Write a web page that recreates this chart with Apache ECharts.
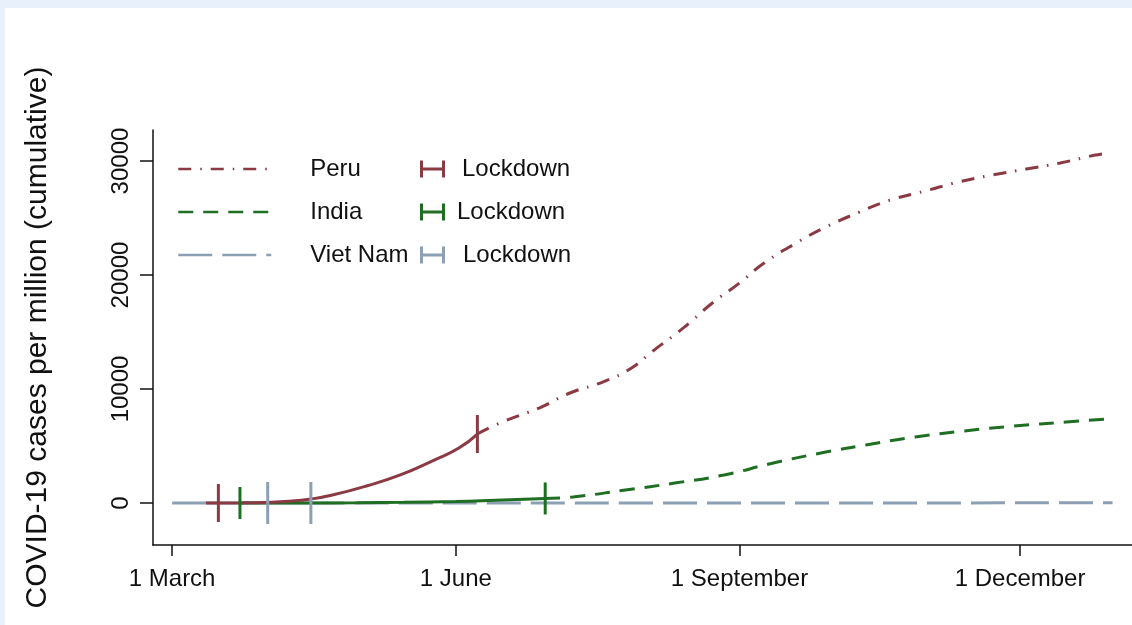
<!DOCTYPE html>
<html>
<head>
<meta charset="utf-8">
<script src="https://cdn.jsdelivr.net/npm/echarts@6/dist/echarts.min.js"></script>
<style>
    body { margin: 0; background: #e8f1fb; width: 1132px; height: 625px; overflow: hidden; }
    #chart { position: absolute; left: 5px; top: 8px; width: 1127px; height: 617px; background: #fff; }
</style>
</head>
<body>
<div id="chart"></div>
<script>
// days counted from 1 March 2020
const tickDays = [0, 92, 184, 275];
const tickLabels = ['1 March', '1 June', '1 September', '1 December'];
const yTicks = [0, 10000, 20000, 30000];

// Peru
const peruSolidDays = [11, 15, 22, 30, 38, 45, 52, 63, 74, 85, 93, 99];
const peruSolidCases = [0, 0, 10, 50, 150, 350, 700, 1490, 2460, 3770, 4820, 6050];
const peruDashDays = [99, 107, 119, 129, 140, 149, 156, 166, 175, 184, 192, 203, 212, 223, 233, 244, 255, 266, 277, 288, 299, 304];
const peruDashCases = [6050, 7100, 8330, 9650, 10650, 11850, 13350, 15400, 17500, 19300, 21050, 22900, 24210, 25530, 26580, 27350, 28160, 28770, 29300, 29820, 30500, 30700];
const peruLockDays = [15, 99];
const peruLockCases = [0, 6050];

// India
const indiaSolidDays = [22, 40, 60, 75, 92, 105, 121];
const indiaSolidCases = [0, 5, 25, 60, 140, 250, 400];
const indiaDashDays = [121, 130, 147, 163, 179, 195, 212, 225, 241, 257, 273, 290, 303];
const indiaDashCases = [400, 530, 1140, 1750, 2460, 3510, 4470, 5090, 5790, 6320, 6750, 7100, 7370];
const indiaLockDays = [22, 121];
const indiaLockCases = [0, 400];

// Viet Nam
const vietSolidDays = [0, 45];
const vietSolidCases = [0, 3];
const vietDashDays = [45, 150, 305];
const vietDashCases = [3, 4, 15];
const vietLockDays = [31, 45];
const vietLockCases = [0, 0];

const colors = {
    peru: '#8b3a44',
    india: '#1f6f23',
    viet: '#8c9fb3'
};
const font = 'Liberation Sans, Arial, sans-serif';

const zip = (xs, ys) => xs.map((x, i) => [x, ys[i]]);

const lineSeries = (name, days, cases, color, type, z) => ({
    name,
    type: 'line',
    data: zip(days, cases),
    symbol: 'none',
    smooth: 0.5,
    z,
    silent: true,
    lineStyle: { color, width: 3, type },
    itemStyle: { color }
});

const lockSeries = (name, days, cases, color, height) => ({
    name,
    type: 'scatter',
    data: zip(days, cases),
    symbol: 'rect',
    symbolSize: [3, height],
    z: 10,
    silent: true,
    itemStyle: { color, opacity: 1 }
});

const lockIcon = 'path://M0,0h3v17h-3zM0,7h25v3h-25zM22,0h3v17h-3z';

const chart = echarts.init(document.getElementById('chart'));
chart.setOption({
    animation: false,
    textStyle: { fontFamily: font },
    grid: { left: 148, right: 0, top: 122, bottom: 80 },
    legend: [{
        data: ['Peru', 'India', 'Viet Nam'],
        orient: 'vertical',
        left: 172,
        top: 149,
        padding: 0,
        itemGap: 19,
        itemWidth: 93,
        itemHeight: 14,
        selectedMode: false,
        itemStyle: { opacity: 0 },
        lineStyle: { width: 2.5 },
        textStyle: { fontSize: 24, color: '#111', lineHeight: 24, padding: [0, 0, 0, 34], fontFamily: font }
    }, {
        data: [
            { name: 'Peru lockdown', icon: lockIcon, textStyle: { padding: [0, 0, 0, 12] } },
            { name: 'India lockdown', icon: lockIcon, textStyle: { padding: [0, 0, 0, 7] } },
            { name: 'Viet Nam lockdown', icon: lockIcon, textStyle: { padding: [0, 0, 0, 13] } }
        ],
        orient: 'vertical',
        left: 415,
        top: 149,
        padding: 0,
        itemGap: 19,
        itemWidth: 25,
        itemHeight: 17,
        selectedMode: false,
        formatter: () => 'Lockdown',
        textStyle: { fontSize: 24, color: '#111', lineHeight: 24, fontFamily: font }
    }],
    xAxis: {
        type: 'value',
        min: -6.2,
        max: 311.3,
        axisLine: { onZero: false, lineStyle: { color: '#111', width: 1.5 } },
        axisTick: { customValues: tickDays, length: 11, lineStyle: { color: '#111', width: 1.5 } },
        axisLabel: {
            customValues: tickDays,
            formatter: v => tickLabels[tickDays.indexOf(v)],
            fontSize: 24,
            color: '#111',
            margin: 22,
            fontFamily: font
        },
        splitLine: { show: false }
    },
    yAxis: {
        type: 'value',
        min: -3684,
        max: 32720,
        name: 'COVID-19 cases per million (cumulative)',
        nameLocation: 'middle',
        nameGap: 100,
        nameTextStyle: { fontSize: 30, color: '#111', fontFamily: font },
        axisLine: { show: true, onZero: false, lineStyle: { color: '#111', width: 1.5 } },
        axisTick: { show: true, customValues: yTicks, length: 13, lineStyle: { color: '#111', width: 1.5 } },
        axisLabel: {
            customValues: yTicks,
            formatter: v => String(v),
            rotate: 90,
            fontSize: 24,
            color: '#111',
            margin: 20,
            fontFamily: font
        },
        splitLine: { show: false }
    },
    series: [
        lineSeries('Viet Nam', vietDashDays, vietDashCases, colors.viet, [34, 10], 1),
        lineSeries('India', indiaDashDays, indiaDashCases, colors.india, [15, 10], 2),
        lineSeries('Peru', peruDashDays, peruDashCases, colors.peru, [13, 9, 1.5, 9], 3),
        lineSeries('Viet Nam solid', vietSolidDays, vietSolidCases, colors.viet, 'solid', 4),
        lineSeries('India solid', indiaSolidDays, indiaSolidCases, colors.india, 'solid', 5),
        lineSeries('Peru solid', peruSolidDays, peruSolidCases, colors.peru, 'solid', 6),
        lockSeries('Peru lockdown', peruLockDays, peruLockCases, colors.peru, 38),
        lockSeries('India lockdown', indiaLockDays, indiaLockCases, colors.india, 32),
        lockSeries('Viet Nam lockdown', vietLockDays, vietLockCases, colors.viet, 42)
    ]
});
</script>
</body>
</html>
